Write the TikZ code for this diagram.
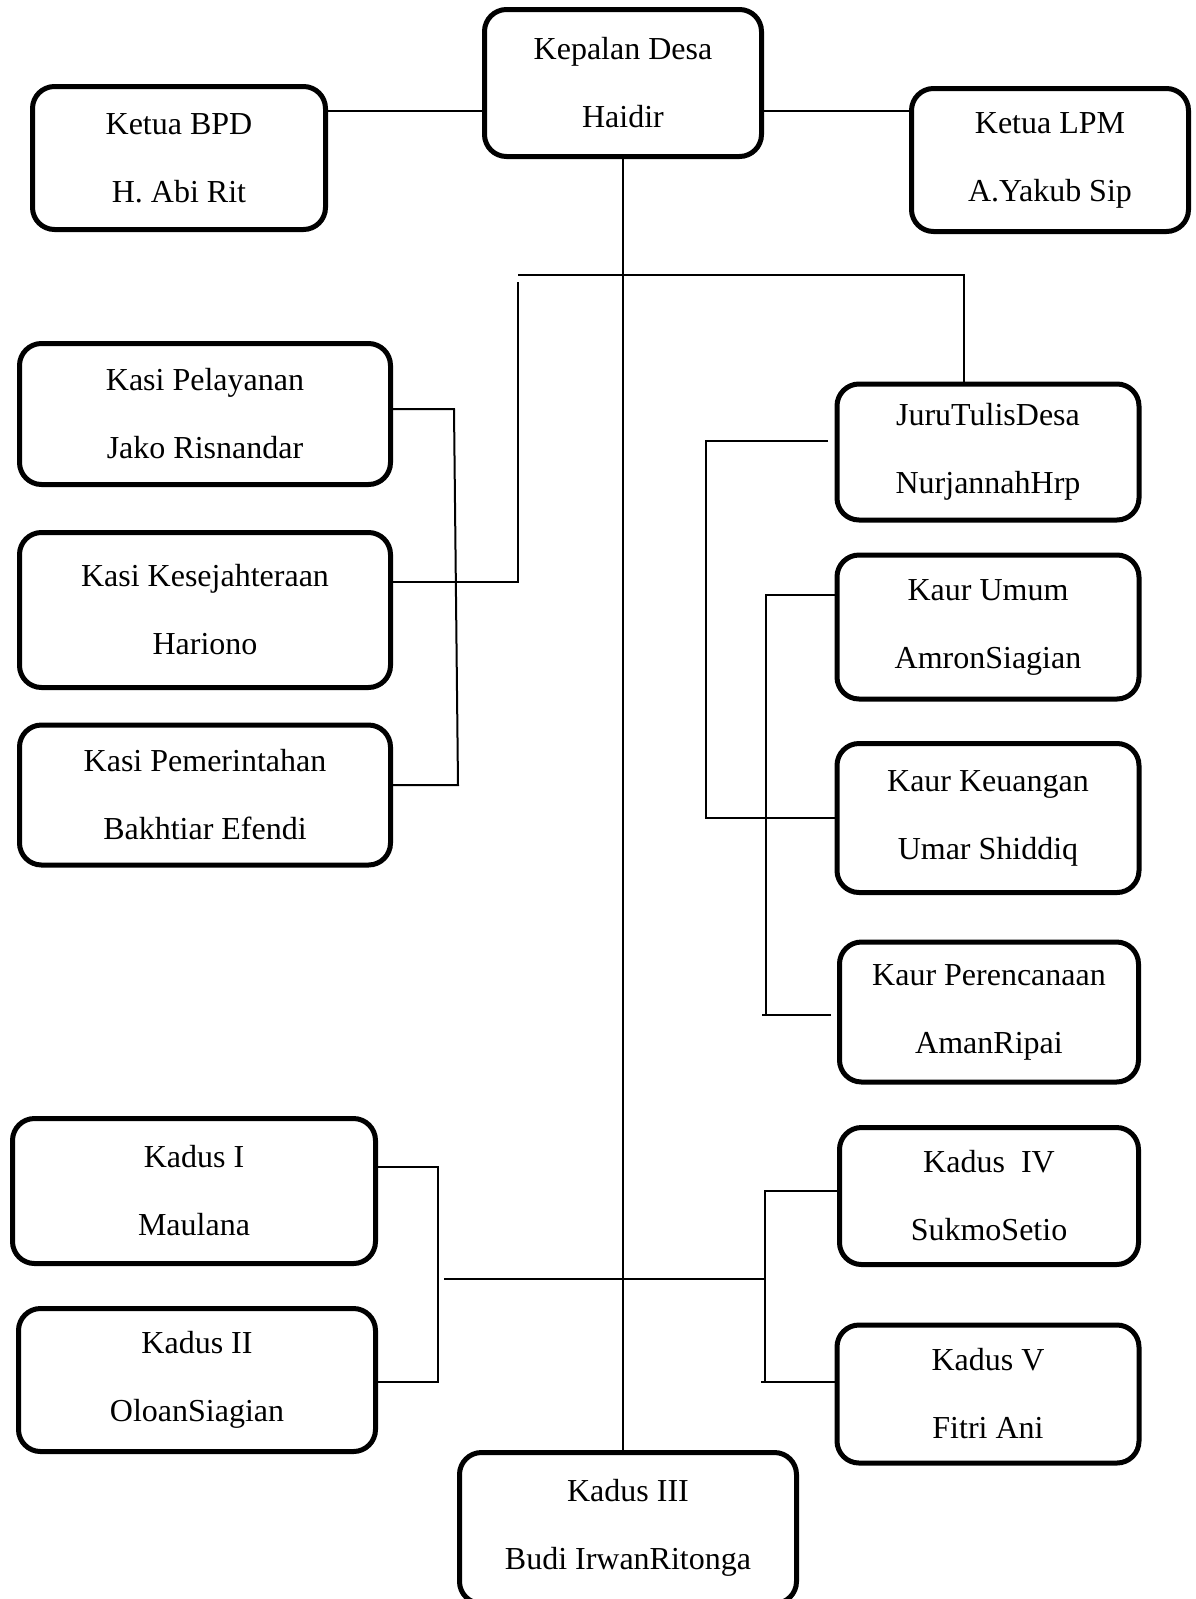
\documentclass[tikz,border=0pt]{standalone}
\usepackage{fontspec}
\setmainfont{Liberation Serif}
\usetikzlibrary{positioning, calc}

\tikzset{
  orgbox/.style={draw, line width=5pt, rounded corners=22pt, inner sep=0pt,
    align=center, font=\fontsize{32}{68}\selectfont},
  link/.style={line width=2pt}
}

\begin{document}
\begin{tikzpicture}[x=1pt, y=-1pt]
  \useasboundingbox (0,0) rectangle (1196,1599);

  % top row
  \node[orgbox, minimum width=277pt, minimum height=147pt] (kades) at (623,83) {Kepalan Desa\\Haidir};
  \node[orgbox, minimum width=293pt, minimum height=143pt] (bpd) at (179,158) {Ketua BPD\\H. Abi Rit};
  \node[orgbox, minimum width=277pt, minimum height=143pt] (lpm) at (1050,160) {Ketua LPM\\A.Yakub Sip};

  % kasi
  \node[orgbox, minimum width=371pt, minimum height=141pt] (pelayanan) at (205,414) {Kasi Pelayanan\\Jako Risnandar};
  \node[orgbox, minimum width=371pt, minimum height=155pt] (kesejahteraan) at (205,610) {Kasi Kesejahteraan\\Hariono};
  \node[orgbox, minimum width=371pt, minimum height=140pt] (pemerintahan) at (205,795) {Kasi Pemerintahan\\Bakhtiar Efendi};

  % sekretariat
  \node[orgbox, minimum width=302pt, minimum height=136pt] (juru) at (988,452) {JuruTulisDesa\\NurjannahHrp};
  \node[orgbox, minimum width=302pt, minimum height=144pt] (umum) at (988,627) {Kaur Umum\\AmronSiagian};
  \node[orgbox, minimum width=302pt, minimum height=149pt] (keuangan) at (988,818) {Kaur Keuangan\\Umar Shiddiq};
  \node[orgbox, minimum width=299pt, minimum height=140pt] (perencanaan) at (989,1012) {Kaur Perencanaan\\AmanRipai};

  % kadus
  \node[orgbox, minimum width=363pt, minimum height=145pt] (kadusA) at (194,1191) {Kadus I\\Maulana};
  \node[orgbox, minimum width=357pt, minimum height=143pt] (kadusB) at (197,1380) {Kadus II\\OloanSiagian};
  \node[orgbox, minimum width=337pt, minimum height=151pt] (kadusC) at (628,1528) {Kadus III\\Budi IrwanRitonga};
  \node[orgbox, minimum width=299pt, minimum height=137pt] (kadusD) at (989,1196) {Kadus~~IV\\SukmoSetio};
  \node[orgbox, minimum width=302pt, minimum height=138pt] (kadusE) at (988,1394) {Kadus V\\Fitri Ani};

  \coordinate (busL) at (518,275);
  \coordinate (busR) at (964,275);
  \coordinate (kesTop) at (518,282);
  \coordinate (brA) at (454,409);
  \coordinate (brB) at (458,785);
  \coordinate (jtEnd) at (828,441);
  \coordinate (jtA) at (706,441);
  \coordinate (kuA) at (766,595);
  \coordinate (kuB) at (766,1015);
  \coordinate (kuC) at (762,1015);
  \coordinate (kuEnd) at (831,1015);
  \coordinate (kdA) at (438,1167);
  \coordinate (kdB) at (438,1382);
  \coordinate (midL) at (444,1279);
  \coordinate (kdC) at (765,1191);
  \coordinate (kdD) at (765,1382);
  \coordinate (kdE) at (761,1382);

  % lines
  \draw[link] ([yshift=-28pt]kades.west) -- ([yshift=-28pt]kades.west -| bpd.east);
  \draw[link] ([yshift=-28pt]kades.east) -- ([yshift=-28pt]kades.east -| lpm.west);
  \draw[link] (kades.south) -- (kades.south |- kadusC.north);
  \draw[link] (busL) -- (busR) -- (busR |- juru.north);
  \draw[link] (kesTop) |- ([yshift=28pt]kesejahteraan.east);
  \draw[link] (pelayanan.east |- brA) -- (brA) -- (brB) -- (brB -| pemerintahan.east);
  \draw[link] (jtEnd) -- (jtA) |- (keuangan.west);
  \draw[link] (umum.west |- kuA) -- (kuA) -- (kuB);
  \draw[link] (kuC) -- (kuEnd);
  \draw[link] (kadusA.east |- kdA) -- (kdA) -- (kdB) -- (kdB -| kadusB.east);
  \draw[link] (midL) -- (midL -| kdC);
  \draw[link] (kadusD.west |- kdC) -- (kdC) -- (kdD);
  \draw[link] (kdE) -- (kdE -| kadusE.west);
\end{tikzpicture}
\end{document}
